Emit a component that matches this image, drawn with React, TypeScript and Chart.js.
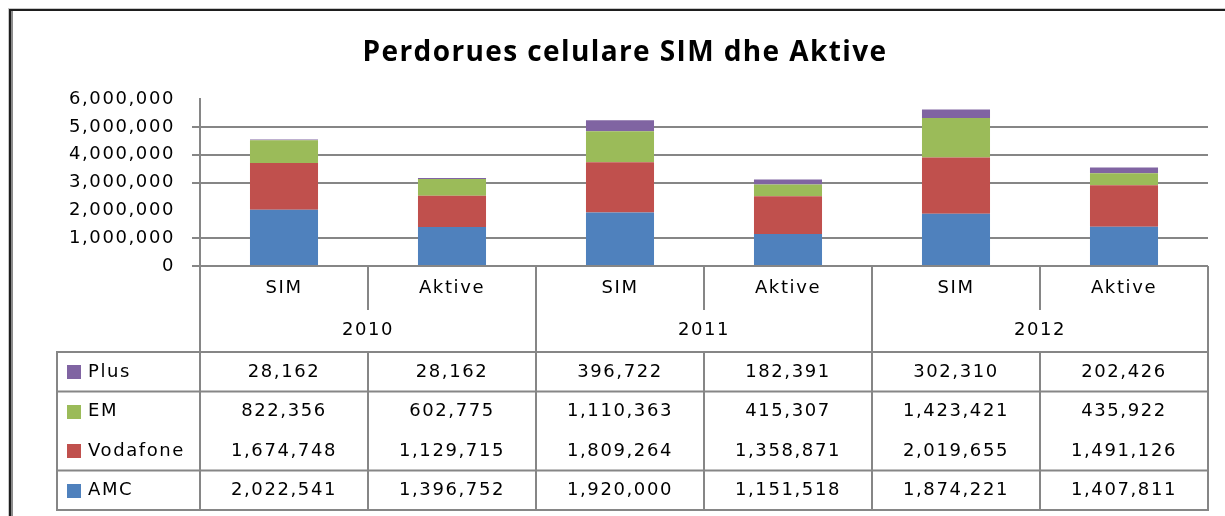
import React, { useEffect, useRef } from "react";
import { Chart, registerables } from "chart.js";

Chart.register(...registerables);

const chartTitle = "Perdorues celulare SIM dhe Aktive";
const subCategories = ["SIM", "Aktive", "SIM", "Aktive", "SIM", "Aktive"];
const years = ["2010", "2011", "2012"];
const seriesNames = ["AMC", "Vodafone", "EM", "Plus"];
const amcValues = [2022541, 1396752, 1920000, 1151518, 1874221, 1407811];
const vodafoneValues = [1674748, 1129715, 1809264, 1358871, 2019655, 1491126];
const emValues = [822356, 602775, 1110363, 415307, 1423421, 435922];
const plusValues = [28162, 28162, 396722, 182391, 302310, 202426];
const yMin = 0;
const yMax = 6000000;
const yStep = 1000000;

const seriesColors = ["#4F81BD", "#C0504D", "#9BBB59", "#8064A2"];
const seriesValues = [amcValues, vodafoneValues, emValues, plusValues];

const FONT = '"DejaVu Sans", sans-serif';
const GRID = "#868686";
const SPACING = "1.6px";

const fmt = (v: number) => v.toLocaleString("en-US");

const excelPlugin = {
  id: "excelDecor",
  beforeDraw(chart: any) {
    const ctx = chart.ctx as CanvasRenderingContext2D;
    ctx.save();
    ctx.fillStyle = "#ffffff";
    ctx.fillRect(0, 0, chart.width, chart.height);
    // outer frame (only left and top visible)
    ctx.fillStyle = "#c8c8c8";
    ctx.fillRect(8, 8, 1, chart.height);
    ctx.fillRect(8, 8, chart.width, 1);
    ctx.fillStyle = "#1e1e1e";
    ctx.fillRect(9, 9, 2, chart.height);
    ctx.fillRect(9, 9, chart.width, 2);
    ctx.fillStyle = "#8c8c8c";
    ctx.fillRect(11, 11, 2, chart.height);
    ctx.restore();
    (ctx as any).letterSpacing = SPACING;
  },
  afterDraw(chart: any) {
    const ctx = chart.ctx as CanvasRenderingContext2D;
    const xs = chart.scales.x;
    const { left, right, bottom } = chart.chartArea;
    const n = subCategories.length;
    const colW = (right - left) / n;
    const tableTop = 352;
    const rowH = 39.5;
    const tableLeft = 57;

    ctx.save();
    ctx.strokeStyle = GRID;
    ctx.lineWidth = 2;
    const line = (x1: number, y1: number, x2: number, y2: number) => {
      ctx.beginPath();
      ctx.moveTo(x1, y1);
      ctx.lineTo(x2, y2);
      ctx.stroke();
    };

    // category area separators
    line(left, bottom, left, tableTop);
    for (let i = 1; i <= n; i++) {
      const x = left + i * colW;
      if (i % 2 === 0) line(x, bottom, x, tableTop);
      else line(x, bottom, x, bottom + 44);
    }

    // category labels
    (ctx as any).letterSpacing = SPACING;
    ctx.fillStyle = "#000";
    ctx.font = `18px ${FONT}`;
    ctx.textAlign = "center";
    ctx.textBaseline = "middle";
    for (let i = 0; i < n; i++) {
      ctx.fillText(subCategories[i], xs.getPixelForValue(i), 288);
    }
    for (let j = 0; j < years.length; j++) {
      const cx = left + (j * 2 + 1) * colW;
      ctx.fillText(years[j], cx, 330);
    }

    // data table
    const rowsTopDown = [3, 2, 1, 0];
    const tableBottom = tableTop + rowH * rowsTopDown.length;
    line(tableLeft - 1, tableTop, right + 1, tableTop);
    for (let r = 1; r <= rowsTopDown.length; r++) {
      if (r === 2) continue;
      const y = tableTop + r * rowH;
      line(tableLeft - 1, y, right + 1, y);
    }
    line(tableLeft, tableTop, tableLeft, tableBottom);
    for (let i = 0; i <= n; i++) {
      const x = left + i * colW;
      line(x, tableTop, x, tableBottom);
    }

    rowsTopDown.forEach((s, r) => {
      const cy = tableTop + r * rowH + rowH / 2 + 0.5;
      ctx.fillStyle = seriesColors[s];
      ctx.fillRect(tableLeft + 10, Math.round(cy - 7), 14, 14);
      ctx.fillStyle = "#000";
      ctx.textAlign = "left";
      ctx.fillText(seriesNames[s], tableLeft + 31, cy);
      ctx.textAlign = "center";
      for (let i = 0; i < n; i++) {
        ctx.fillText(fmt(seriesValues[s][i]), xs.getPixelForValue(i), cy);
      }
    });

    // title
    (ctx as any).letterSpacing = "1.4px";
    ctx.font = `bold 28px "Open Sans", sans-serif`;
    ctx.textAlign = "center";
    ctx.textBaseline = "alphabetic";
    ctx.fillStyle = "#000";
    ctx.fillText(chartTitle, 625, 61);
    ctx.restore();
  },
};

export default function App() {
  const canvasRef = useRef<HTMLCanvasElement | null>(null);

  useEffect(() => {
    if (!canvasRef.current) return;
    const chart = new Chart(canvasRef.current, {
      type: "bar",
      data: {
        labels: subCategories,
        datasets: seriesNames.map((name, s) => ({
          label: name,
          data: seriesValues[s],
          backgroundColor: seriesColors[s],
          borderWidth: 0,
          categoryPercentage: 1,
          barPercentage: 0.405,
        })),
      },
      options: {
        responsive: false,
        animation: false,
        devicePixelRatio: 1,
        layout: { padding: { left: 0, right: 17, top: 99, bottom: 250 } },
        plugins: {
          legend: { display: false },
          title: { display: false },
          tooltip: { enabled: false },
        },
        scales: {
          x: {
            type: "category",
            display: false,
            stacked: true,
            offset: true,
          },
          y: {
            stacked: true,
            min: yMin,
            max: yMax,
            afterFit: (scale: any) => {
              scale.width = 200;
            },
            ticks: {
              stepSize: yStep,
              padding: 17,
              color: "#000",
              font: { family: FONT, size: 18 },
              callback: (v: any) => fmt(Number(v)),
            },
            grid: {
              color: (c: any) =>
                c.tick && (c.tick.value === yMax || c.tick.value === 2000000)
                  ? "rgba(0,0,0,0)"
                  : GRID,
              lineWidth: 2,
              tickLength: 8,
              drawTicks: true,
            },
            border: { display: true, color: GRID, width: 2 },
          },
        },
      },
      plugins: [excelPlugin],
    });
    return () => chart.destroy();
  }, []);

  return (
    <div style={{ position: "absolute", left: 0, top: 0, width: 1225, height: 516, background: "#fff" }}>
      <canvas ref={canvasRef} width={1225} height={516} style={{ display: "block" }} />
    </div>
  );
}
